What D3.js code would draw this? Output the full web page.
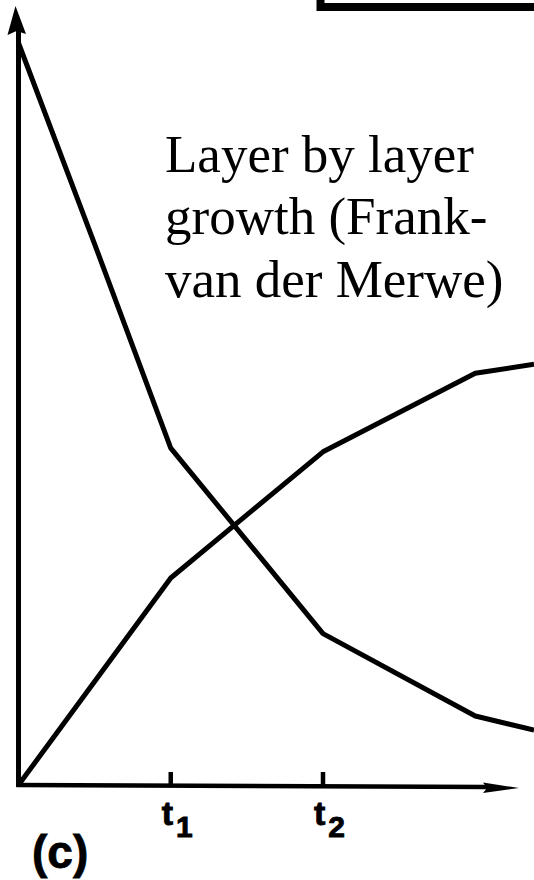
<!DOCTYPE html>
<html>
<head>
<meta charset="utf-8">
<script src="https://cdn.jsdelivr.net/npm/d3@7"></script>
<style>
  html, body { margin: 0; padding: 0; background: #fff; }
  svg { display: block; }
</style>
</head>
<body>
<script>
// Time axis positions (in units of t1) and surface coverage of two layers
const times      = [0, 0.5, 1, 2, 3, 3.386];
const layerOne   = [100, 72.9, 45.4, 20.4, 9.3, 7.4];   // first layer, falling
const layerTwo   = [0, 13.95, 27.9, 44.9, 55.5, 56.7];  // second layer, rising
const tickTimes  = [1, 2];
const tickLabels = [["t", "1"], ["t", "2"]];
const titleLines = ["Layer by layer", "growth (Frank-", "van der Merwe)"];
const panelLabel = "(c)";

const W = 534, H = 880;
const svg = d3.select("body").append("svg")
  .attr("width", W).attr("height", H)
  .attr("viewBox", `0 0 ${W} ${H}`);

const x = d3.scaleLinear().domain([0, 2]).range([18.5, 323]);
const y = d3.scaleLinear().domain([0, 100]).range([785, 43]);

const ink = "#000";

// Corner of the framed box at the top right
svg.append("path")
  .attr("d", `M320.5,-10 V7 H${W + 10}`)
  .attr("fill", "none").attr("stroke", ink).attr("stroke-width", 8);

// Vertical axis with arrow
svg.append("line")
  .attr("x1", x(0)).attr("x2", x(0))
  .attr("y1", 30).attr("y2", y(0) + 2)
  .attr("stroke", ink).attr("stroke-width", 5);
svg.append("path")
  .attr("d", `M${x(0) - 3},6 L${x(0) + 7.5},34 L${x(0) - 2},31 L${x(0) - 11},35 Z`)
  .attr("fill", ink);

// Horizontal axis with arrow
svg.append("line")
  .attr("x1", x(0) - 2).attr("x2", 488)
  .attr("y1", y(0)).attr("y2", y(0) + 2)
  .attr("stroke", ink).attr("stroke-width", 4.5);
svg.append("path")
  .attr("d", `M519,${y(0) + 3} L483,${y(0) - 2.5} L487,${y(0) + 3} L483,${y(0) + 8} Z`)
  .attr("fill", ink);

// Tick marks and labels at t1 and t2
const ticks = svg.append("g");
tickTimes.forEach((t, i) => {
  ticks.append("line")
    .attr("x1", x(t)).attr("x2", x(t))
    .attr("y1", y(0) - 13).attr("y2", y(0))
    .attr("stroke", ink).attr("stroke-width", 4.5);
  const lab = ticks.append("text")
    .attr("x", x(t) - 9).attr("y", 825)
    .attr("font-family", "'Liberation Sans', Arial, sans-serif")
    .attr("font-weight", "bold")
    .attr("fill", ink)
    .attr("stroke", ink).attr("stroke-width", 0.9);
  lab.append("tspan").attr("font-size", 34).text(tickLabels[i][0]);
  lab.append("tspan").attr("font-size", 30).attr("dx", 3).attr("dy", 12).text(tickLabels[i][1]);
});

// Coverage curves
const line = d3.line().x(d => x(d[0])).y(d => y(d[1]));
[layerOne, layerTwo].forEach(series => {
  svg.append("path")
    .datum(times.map((t, i) => [t, series[i]]))
    .attr("d", line)
    .attr("fill", "none")
    .attr("stroke", ink)
    .attr("stroke-width", 5)
    .attr("stroke-linejoin", "round");
});

// Growth mode caption
svg.append("g").selectAll("text")
  .data(titleLines).join("text")
  .attr("x", 165)
  .attr("y", (d, i) => 172 + i * 62.3)
  .attr("font-family", "'Liberation Serif', 'Times New Roman', serif")
  .attr("font-size", 53)
  .attr("fill", ink)
  .text(d => d);

// Panel label
svg.append("text")
  .attr("x", 32).attr("y", 868)
  .attr("font-family", "'Liberation Sans', Arial, sans-serif")
  .attr("font-weight", "bold")
  .attr("font-size", 46)
  .attr("fill", ink)
  .attr("stroke", ink).attr("stroke-width", 0.8)
  .text(panelLabel);
</script>
</body>
</html>
